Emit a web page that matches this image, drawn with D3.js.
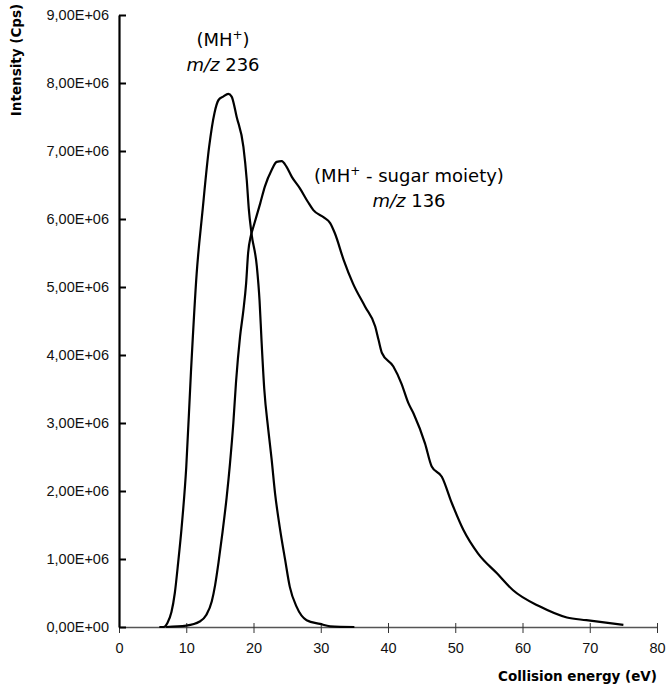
<!DOCTYPE html>
<html>
<head>
<meta charset="utf-8">
<script src="https://cdn.jsdelivr.net/npm/d3@7"></script>
<style>
  body { margin: 0; background: #fff; }
  svg { font-family: "DejaVu Sans", sans-serif; }
</style>
</head>
<body>
<div id="chart"></div>
<script>
// collision energy (eV) / intensity (millions of cps)
const energy236 = [6.0, 6.6, 7.2, 7.8, 8.3, 8.8, 9.3, 10.0, 10.7, 11.55, 12.4, 13.4, 14.2, 14.8, 15.5, 16.25, 16.75, 17.5, 18.5, 19.0, 19.3, 19.7, 20.5, 20.9, 21.2, 21.6, 22.2, 22.7, 23.2, 23.9, 24.7, 25.4, 26.4, 27.9, 29.9, 31.4, 35];
const intensity236 = [0, 0, 0.06, 0.22, 0.5, 0.95, 1.45, 2.35, 3.75, 5.2, 6.1, 7.06, 7.56, 7.75, 7.8, 7.84, 7.8, 7.5, 7.06, 6.57, 6.15, 5.79, 5.30, 4.8, 4.2, 3.5, 2.9, 2.46, 1.97, 1.47, 0.99, 0.59, 0.30, 0.10, 0.045, 0.01, 0];

const energy136 = [7, 10, 12.0, 13.0, 13.8, 14.3, 14.8, 15.4, 16.0, 16.5, 17.0, 17.4, 18.0, 18.5, 18.9, 19.2, 19.6, 20.0, 21.0, 21.7, 22.7, 23.45, 24.2, 24.9, 25.7, 26.9, 28.1, 28.9, 30.5, 31.4, 32.1, 33.4, 34.8, 36.6, 38.1, 38.6, 39.1, 40.8, 42.0, 43.0, 43.8, 45.5, 46.5, 48.0, 49.5, 51.2, 53.4, 56.2, 58.6, 62.6, 66.6, 69.5, 75];
const intensity136 = [0, 0.02, 0.08, 0.18, 0.38, 0.62, 0.95, 1.4, 1.9, 2.4, 3.0, 3.6, 4.27, 4.66, 5.05, 5.5, 5.75, 5.89, 6.23, 6.48, 6.72, 6.84, 6.85, 6.77, 6.62, 6.45, 6.25, 6.13, 6.02, 5.94, 5.79, 5.40, 5.05, 4.71, 4.42, 4.22, 4.03, 3.83, 3.58, 3.3, 3.14, 2.70, 2.36, 2.21, 1.82, 1.43, 1.08, 0.79, 0.54, 0.30, 0.14, 0.10, 0.03];

const xTicks = [0, 10, 20, 30, 40, 50, 60, 70, 80];
const yTicks = [0, 1, 2, 3, 4, 5, 6, 7, 8, 9];
const yTickLabels = ['0,00E+00', '1,00E+06', '2,00E+06', '3,00E+06', '4,00E+06', '5,00E+06', '6,00E+06', '7,00E+06', '8,00E+06', '9,00E+06'];

const width = 666;
const height = 685;
const margin = { top: 15, right: 9, bottom: 58, left: 119 };

const svg = d3.select('#chart')
  .append('svg')
  .attr('width', width)
  .attr('height', height);

const x = d3.scaleLinear()
  .domain([0, 80])
  .range([margin.left, width - margin.right]);

const y = d3.scaleLinear()
  .domain([0, 9])
  .range([height - margin.bottom, margin.top]);

// x axis
const xAxis = svg.append('g')
  .attr('transform', `translate(0, ${y(0)})`)
  .call(d3.axisBottom(x).tickValues(xTicks).tickSize(6).tickPadding(10).tickSizeOuter(0));
xAxis.select('.domain').attr('stroke', '#555').attr('stroke-width', 1.5);
xAxis.selectAll('.tick line').attr('y1', -4).attr('stroke', '#333');
xAxis.selectAll('.tick text').attr('font-size', 14.5).attr('fill', '#111');

// y axis
const yAxis = svg.append('g')
  .attr('transform', `translate(${x(0)}, 0)`)
  .call(d3.axisLeft(y).tickValues(yTicks).tickFormat((d, i) => yTickLabels[i])
    .tickSize(6).tickPadding(4).tickSizeOuter(0));
yAxis.select('.domain').attr('stroke', '#000').attr('stroke-width', 2.2);
yAxis.selectAll('.tick line').attr('x2', 7).attr('stroke', '#000').attr('stroke-width', 2);
yAxis.selectAll('.tick text').attr('font-size', 14.5).attr('fill', '#111');

// axis titles
svg.append('text')
  .attr('transform', `translate(21, 60) rotate(-90)`)
  .attr('text-anchor', 'middle')
  .attr('font-size', 13.5)
  .attr('font-weight', 'bold')
  .text('Intensity (Cps)');

svg.append('text')
  .attr('x', x(80))
  .attr('y', 681)
  .attr('text-anchor', 'end')
  .attr('font-size', 13.5)
  .attr('font-weight', 'bold')
  .text('Collision energy (eV)');

// curves
const line = d3.line()
  .x((d) => x(d[0]))
  .y((d) => y(d[1]))
  .curve(d3.curveMonotoneX);

const series = [
  d3.zip(energy236, intensity236),
  d3.zip(energy136, intensity136)
];

svg.selectAll('path.curve')
  .data(series)
  .enter()
  .append('path')
  .attr('class', 'curve')
  .attr('d', line)
  .attr('fill', 'none')
  .attr('stroke', '#000')
  .attr('stroke-width', 2.2)
  .attr('stroke-linejoin', 'round');

// annotations
function label(cx, cy, before, after) {
  const t = svg.append('text')
    .attr('x', cx)
    .attr('y', cy)
    .attr('text-anchor', 'middle')
    .attr('font-size', 18);
  t.append('tspan').text('(MH');
  t.append('tspan').attr('dy', -7).attr('font-size', 12).text('+');
  t.append('tspan').attr('dy', 7).text(before);
  const m = svg.append('text')
    .attr('x', cx)
    .attr('y', cy + 25)
    .attr('text-anchor', 'middle')
    .attr('font-size', 18);
  m.append('tspan').attr('font-style', 'italic').text('m/z');
  m.append('tspan').text(after);
}

label(223, 46, ')', ' 236');
label(409, 182, ' - sugar moiety)', ' 136');
</script>
</body>
</html>
